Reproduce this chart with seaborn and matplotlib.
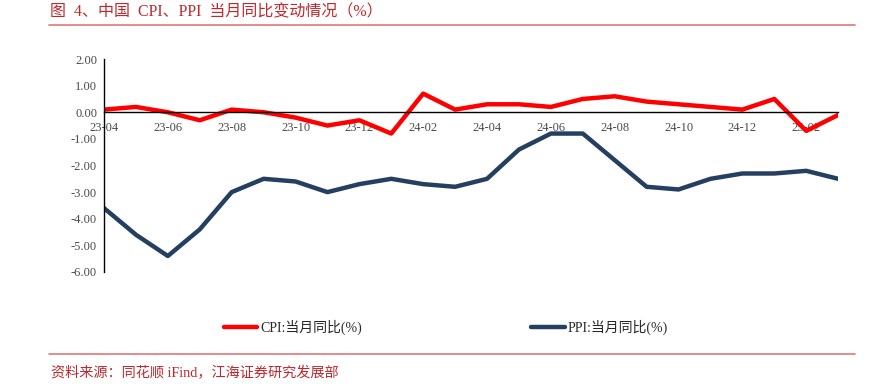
import numpy as np
import pandas as pd
import matplotlib
matplotlib.use('Agg')
import matplotlib.pyplot as plt
import seaborn as sns

months = ['23-04','23-05','23-06','23-07','23-08','23-09','23-10','23-11','23-12',
          '24-01','24-02','24-03','24-04','24-05','24-06','24-07','24-08','24-09',
          '24-10','24-11','24-12','25-01','25-02','25-03']
cpi = [0.1, 0.2, 0.0, -0.3, 0.1, 0.0, -0.2, -0.5, -0.3,
       -0.8, 0.7, 0.1, 0.3, 0.3, 0.2, 0.5, 0.6, 0.4,
       0.3, 0.2, 0.1, 0.5, -0.7, -0.1]
ppi = [-3.6, -4.6, -5.4, -4.4, -3.0, -2.5, -2.6, -3.0, -2.7,
       -2.5, -2.7, -2.8, -2.5, -1.4, -0.8, -0.8, -1.8, -2.8,
       -2.9, -2.5, -2.3, -2.3, -2.2, -2.5]
series_names = ['CPI:当月同比(%)', 'PPI:当月同比(%)']
title = '图  4、中国  CPI、PPI  当月同比变动情况（%）'
source = '资料来源：同花顺 iFind，江海证券研究发展部'

sns.set_style('white')
plt.rcParams['font.family'] = ['Liberation Serif', 'Noto Sans CJK SC', 'DejaVu Sans']
plt.rcParams['axes.unicode_minus'] = False

df = pd.DataFrame({'idx': range(len(months)), 'month': months,
                   series_names[0]: cpi, series_names[1]: ppi})
long = df.melt(id_vars=['idx', 'month'], value_vars=series_names,
               var_name='series', value_name='value')

fig = plt.figure(figsize=(8.74, 3.84), dpi=100)
ax = fig.add_axes([0.119, 0.2917, 0.840, 0.5546])

sns.lineplot(data=long, x='idx', y='value', hue='series',
             palette={series_names[0]: '#ff0000', series_names[1]: '#243f60'},
             linewidth=3.2, ax=ax, legend=True)
for ln in ax.lines:
    ln.set_solid_joinstyle('round')
    ln.set_solid_capstyle('round')

ax.set_xlim(0, len(months) - 1)
ax.set_ylim(-6, 2)
ax.set_yticks(np.arange(-6, 2.01, 1))
ax.set_yticklabels(['%.2f' % v for v in np.arange(-6, 2.01, 1)])
ax.set_xticks(range(0, len(months), 2))
ax.set_xticklabels(months[::2])
ax.set_xlabel('')
ax.set_ylabel('')

for s in ['top', 'right']:
    ax.spines[s].set_visible(False)
ax.spines['bottom'].set_position(('data', 0))
ax.spines['bottom'].set_color('black')
ax.spines['left'].set_color('black')
ax.spines['bottom'].set_linewidth(1.0)
ax.spines['left'].set_linewidth(1.0)
ax.tick_params(axis='both', direction='in', length=4, width=1, color='black',
               labelsize=9, labelcolor='#4a4a4a')
ax.tick_params(axis='x', pad=7)
ax.tick_params(axis='y', pad=5)

handles, labels = ax.get_legend_handles_labels()
ax.legend_.remove()
fig.legend(handles, labels, loc='center', bbox_to_anchor=(0.51, 0.148), ncol=2,
           frameon=False, fontsize=10, handlelength=2.4, handletextpad=0.2,
           columnspacing=12.2)

red = '#c0282d'
fig.text(0.057, 0.968, title, color=red, fontsize=11.5, va='center', ha='left')
fig.add_artist(plt.Line2D([0.056, 0.978], [0.934, 0.934], color='#e0787a', linewidth=1.2,
                          transform=fig.transFigure))
fig.add_artist(plt.Line2D([0.056, 0.978], [0.079, 0.079], color='#e0787a', linewidth=1.2,
                          transform=fig.transFigure))
fig.text(0.058, 0.029, source, color=red, fontsize=10.2, va='center', ha='left')

fig.savefig('out.png', dpi=100)
